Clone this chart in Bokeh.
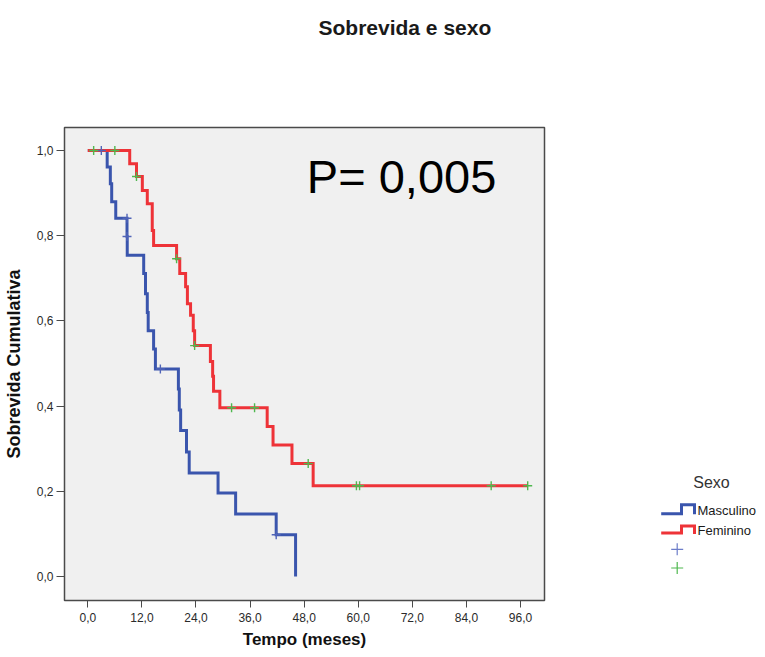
from bokeh.plotting import figure
from bokeh.models import Range1d, Label, FixedTicker, Title
from bokeh.layouts import row
from bokeh.embed import file_html
from bokeh.resources import INLINE
from bokeh.core.properties import value

# ---------------- data ----------------
title_text = "Sobrevida e sexo"
p_text = "P= 0,005"
x_label = "Tempo (meses)"
y_label = "Sobrevida Cumulativa"
legend_title = "Sexo"
series_names = ["Masculino", "Feminino"]

x_ticks = [0, 12, 24, 36, 48, 60, 72, 84, 96]
x_tick_labels = ["0,0", "12,0", "24,0", "36,0", "48,0", "60,0", "72,0", "84,0", "96,0"]
y_ticks = [0.0, 0.2, 0.4, 0.6, 0.8, 1.0]
y_tick_labels = ["0,0", "0,2", "0,4", "0,6", "0,8", "1,0"]

# Kaplan-Meier steps: time of each drop and survival after it
masc_t = [0, 4.3, 5.0, 5.3, 6.2, 8.7, 8.75, 12.4, 12.8, 13.2, 13.4, 14.6, 15.0,
          20.1, 20.3, 20.6, 21.9, 22.5, 28.9, 32.8, 41.8, 46.1]
masc_s = [1.0, 0.961, 0.922, 0.880, 0.841, 0.798, 0.754, 0.711, 0.664, 0.620, 0.577,
          0.534, 0.487, 0.440, 0.391, 0.343, 0.292, 0.243, 0.196, 0.147, 0.098, 0.0]
masc_cens_t = [3.0, 8.7, 8.7, 16.1, 41.8]
masc_cens_s = [1.0, 0.841, 0.798, 0.487, 0.098]

fem_t = [0, 9.3, 10.8, 12.1, 13.2, 14.3, 14.6, 19.7, 20.4, 21.7, 22.1, 22.8, 23.4,
         23.7, 27.2, 27.7, 27.9, 29.3, 39.8, 41.1, 45.3, 50.0]
fem_s = [1.0, 0.969, 0.939, 0.906, 0.875, 0.812, 0.777, 0.746, 0.711, 0.680, 0.640,
         0.613, 0.577, 0.542, 0.505, 0.470, 0.435, 0.396, 0.352, 0.309, 0.265, 0.213]
fem_cens_t = [1.3, 6.0, 10.8, 19.7, 23.7, 31.9, 37.0, 48.9, 59.6, 60.3, 89.5, 97.6]
fem_cens_s = [1.0, 1.0, 0.939, 0.746, 0.542, 0.396, 0.396, 0.265, 0.213, 0.213, 0.213, 0.213]

# ---------------- styles ----------------
FONT = "Liberation Sans"
BLUE = "#3a55ad"
RED = "#ee3338"
BLUE_CENS = "#5064b8"
GREEN = "#4fb84f"
LEG_BLUE_CROSS = "#6c7dc9"
FRAME = "#4a4a4a"

p = figure(frame_width=480, frame_height=473,
           x_range=Range1d(-5.17, 101.33), y_range=Range1d(-0.0563, 1.054),
           toolbar_location=None, output_backend="svg",
           min_border_left=64, min_border_right=2, min_border_top=127, min_border_bottom=30)
p.background_fill_color = "#f0f0f0"
p.border_fill_color = "white"
p.outline_line_color = FRAME
p.outline_line_width = 1.5
p.xgrid.visible = False
p.ygrid.visible = False

# blank spacer between frame and title so the title sits at the top of the page
p.add_layout(Title(text=" ", text_font_size="10px", standoff=59), "above")

p.title.text = title_text
p.title.align = "left"
p.title.offset = 254
p.title.vertical_align = "top"
p.title.standoff = 29
p.title.text_font = FONT
p.title.text_font_size = "21px"
p.title.text_font_style = "bold"
p.title.text_color = "#1a1a1a"

for ax in (p.xaxis[0], p.yaxis[0]):
    ax.axis_line_color = FRAME
    ax.major_tick_line_color = FRAME
    ax.major_tick_in = 0
    ax.minor_tick_line_color = None
    ax.major_label_text_font = FONT
    ax.major_label_text_font_size = "12px"
    ax.major_label_text_color = "#2a2a2a"
    ax.axis_label_text_font = FONT
    ax.axis_label_text_font_style = "bold"
    ax.axis_label_text_color = "#111111"

p.xaxis.axis_label_text_font_size = "17px"
p.yaxis.axis_label_text_font_size = "18px"
p.xaxis.ticker = FixedTicker(ticks=x_ticks)
p.xaxis.major_label_overrides = {t: l for t, l in zip(x_ticks, x_tick_labels)}
p.yaxis.ticker = FixedTicker(ticks=y_ticks)
p.yaxis.major_label_overrides = {t: l for t, l in zip(y_ticks, y_tick_labels)}
p.xaxis.major_tick_out = 7
p.yaxis.major_tick_out = 8
p.xaxis.major_label_standoff = 5
p.yaxis.major_label_standoff = 3
p.xaxis.axis_label = x_label
p.yaxis.axis_label = y_label
p.xaxis.axis_label_standoff = 5
p.yaxis.axis_label_standoff = 10

# curves
p.step(masc_t, masc_s, mode="after", line_color=BLUE, line_width=3, line_join="miter")
p.step(fem_t + [max(fem_cens_t)], fem_s + [fem_s[-1]], mode="after",
       line_color=RED, line_width=3, line_join="miter")
# censor marks
p.scatter(masc_cens_t, masc_cens_s, marker="cross", size=9, line_width=1.4, line_color=BLUE_CENS)
p.scatter(fem_cens_t, fem_cens_s, marker="cross", size=9, line_width=1.4, line_color=GREEN)

p.add_layout(Label(x=48.6, y=0.938, text=p_text, text_align="left",
                   text_baseline="alphabetic", text_font=FONT, text_font_size="47px",
                   text_color="black"))

# ---------------- legend panel (frame aligned with the plot frame; y in page pixels) ----------------
leg = figure(width=215, height=657, x_range=Range1d(546, 761), y_range=Range1d(600, 127),
             toolbar_location=None, output_backend="svg", min_border=0,
             x_axis_location=None, y_axis_location=None)
leg.outline_line_color = None
leg.xgrid.visible = False
leg.ygrid.visible = False
leg.background_fill_color = "white"
leg.border_fill_color = "white"

leg.text(x=[711], y=[478], text=[legend_title], text_align="center", text_baseline="middle",
         text_font=value(FONT), text_font_size="16px", text_color="#333333")
leg.line([660.7, 681, 681, 694, 694], [508.5, 508.5, 499.5, 499.5, 509.0],
         line_color=BLUE, line_width=3, line_join="miter")
leg.line([660.7, 681, 681, 694, 694], [527.5, 527.5, 520.5, 520.5, 528.5],
         line_color=RED, line_width=3, line_join="miter")
leg.text(x=[697, 697], y=[505, 524.5], text=series_names, text_align="left",
         text_baseline="middle", text_font=value(FONT), text_font_size="13px",
         text_color="#1a1a1a")
leg.scatter([676.7], [543.5], marker="cross", size=12, line_width=1.2, line_color=LEG_BLUE_CROSS)
leg.scatter([676.7], [562], marker="cross", size=12, line_width=1.2, line_color=GREEN)

layout = row(p, leg)
open("out.html", "w").write(file_html(layout, INLINE, "Sobrevida e sexo"))
